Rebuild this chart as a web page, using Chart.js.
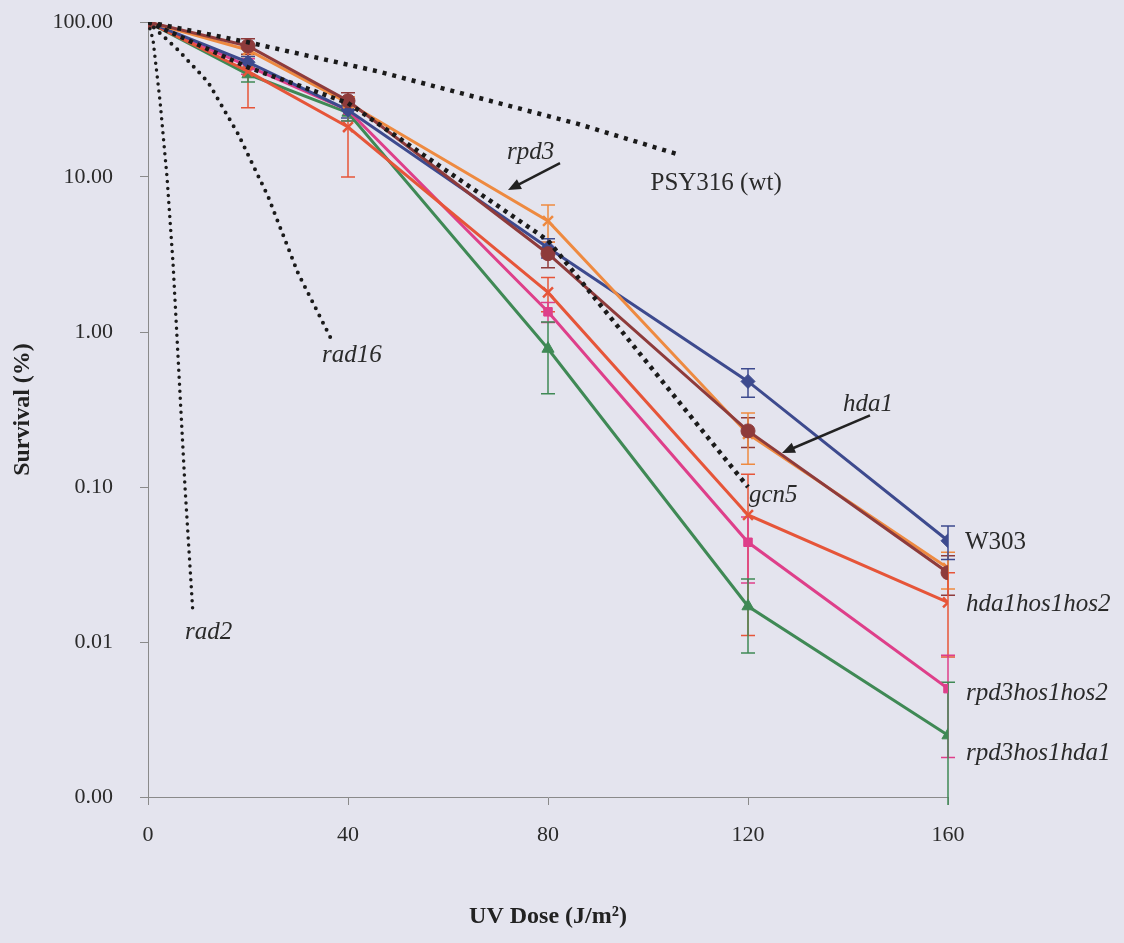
<!DOCTYPE html>
<html>
<head>
<meta charset="utf-8">
<title>UV survival</title>
<script src="https://cdn.jsdelivr.net/npm/chart.js@4.4.1/dist/chart.umd.min.js"></script>
<style>
  html, body { margin: 0; padding: 0; background: #E4E4EE; }
  #wrap { width: 1124px; height: 943px; position: relative; }
</style>
</head>
<body>
<div id="wrap"><canvas id="survivalChart"></canvas></div>
<script>
// UV dose (J/m2) used for every strain
const doses = [0, 20, 40, 80, 120, 160];

// Survival (%) and +/- error for each strain
const w303 = [100, 55, 27, 3.5, 0.48, 0.045];
const w303Err = [0, 5, 3, 0.5, 0.1, 0.011];
const hda1 = [100, 70, 31, 3.2, 0.23, 0.028];
const hda1Err = [0, 8, 4, 0.6, 0.05, 0.008];
const rpd3 = [100, 66, 30, 5.2, 0.22, 0.03];
const rpd3Err = [0, 6, 3, 1.4, 0.08, 0.008];
const hda1hos1hos2 = [100, 48, 21, 1.8, 0.066, 0.018];
const hda1hos1hos2Err = [0, 20, 11, 0.45, 0.055, 0.01];
const rpd3hos1hos2 = [100, 52, 27, 1.35, 0.044, 0.005];
const rpd3hos1hos2Err = [0, 6, 4, 0.2, 0.02, 0.0032];
const rpd3hos1hda1 = [100, 46, 26, 0.78, 0.017, 0.0025];
const rpd3hos1hda1Err = [0, 5, 3, 0.38, 0.0085, 0.003];

// dotted reference curves (other strains), dose / survival
const wtDose = [0, 20, 46, 86, 106];
const wtSurv = [100, 74, 48, 22, 14];
const gcn5Dose = [0, 20, 40, 80, 120];
const gcn5Surv = [100, 51, 30, 3.9, 0.1];
const rad16Dose = [0, 6, 12, 18, 24, 30, 36.5];
const rad16Surv = [100, 66, 41, 19, 7.5, 2.4, 0.92];
const rad2Dose = [0, 1, 2.4, 3.8, 5, 7.4, 9];
const rad2Surv = [100, 77, 31, 10, 2.8, 0.1, 0.015];

const yTicks = [0.001, 0.01, 0.1, 1, 10, 100];

// text put on the plot, placed in data units (left edge, middle)
const notes = [
    { text: 'rad2', x: 7.4, y: 0.0116, italic: true },
    { text: 'rad16', x: 34.8, y: 0.71, italic: true },
    { text: 'rpd3', x: 71.8, y: 14.5, italic: true },
    { text: 'PSY316 (wt)', x: 100.5, y: 9.15, italic: false },
    { text: 'hda1', x: 139, y: 0.343, italic: true },
    { text: 'gcn5', x: 120.2, y: 0.0887, italic: true },
    { text: 'W303', x: 163.4, y: 0.0442, italic: false },
    { text: 'hda1hos1hos2', x: 163.6, y: 0.0176, italic: true },
    { text: 'rpd3hos1hos2', x: 163.6, y: 0.00469, italic: true },
    { text: 'rpd3hos1hda1', x: 163.6, y: 0.00192, italic: true }
];
const arrows = [
    { x1: 82.4, y1: 12.3, x2: 72, y2: 8.24 },
    { x1: 144.4, y1: 0.29, x2: 126.8, y2: 0.166 }
];

const FONT = "'Liberation Serif', 'Times New Roman', serif";
Chart.defaults.font.family = FONT;
Chart.defaults.color = '#2a2a2a';

function pts(xs, ys) {
    return xs.map(function (x, i) { return { x: x, y: ys[i] }; });
}

function strain(label, values, errors, color, style, radius) {
    return {
        label: label,
        data: pts(doses, values),
        errors: errors,
        showLine: true,
        borderColor: color,
        backgroundColor: color,
        borderWidth: 3,
        pointStyle: style,
        pointRadius: radius,
        pointBorderWidth: (style === 'crossRot') ? 2.5 : 1,
        order: 1
    };
}

function dotted(label, xs, ys, width, dash, cap) {
    return {
        label: label,
        data: pts(xs, ys),
        showLine: true,
        borderColor: '#1a1a1a',
        borderWidth: width,
        borderDash: dash,
        borderCapStyle: cap,
        pointRadius: 0,
        order: 0
    };
}

/*---------------------------------------------------
  Plugins: background, error bars, text + arrows
---------------------------------------------------*/

const paperBg = {
    id: 'paperBg',
    beforeDraw: function (chart) {
        const ctx = chart.ctx;
        ctx.save();
        ctx.fillStyle = '#E4E4EE';
        ctx.fillRect(0, 0, chart.width, chart.height);
        ctx.restore();
    }
};

const errorBars = {
    id: 'errorBars',
    beforeDatasetsDraw: function (chart) {
        const ctx = chart.ctx;
        const xs = chart.scales.x;
        const ys = chart.scales.y;
        const area = chart.chartArea;
        ctx.save();
        chart.data.datasets.forEach(function (ds) {
            if (!ds.errors) return;
            ctx.strokeStyle = ds.borderColor;
            ctx.lineWidth = 1.5;
            ds.data.forEach(function (p, j) {
                const e = ds.errors[j];
                if (!e) return;
                const px = xs.getPixelForValue(p.x);
                const top = ys.getPixelForValue(p.y + e);
                const lo = p.y - e;
                const clipped = lo <= ys.min;
                const bottom = clipped ? area.bottom + 8 : ys.getPixelForValue(lo);
                ctx.beginPath();
                ctx.moveTo(px, top);
                ctx.lineTo(px, bottom);
                ctx.moveTo(px - 7, top);
                ctx.lineTo(px + 7, top);
                if (!clipped) {
                    ctx.moveTo(px - 7, bottom);
                    ctx.lineTo(px + 7, bottom);
                }
                ctx.stroke();
            });
        });
        ctx.restore();
    }
};

const plotNotes = {
    id: 'plotNotes',
    afterDatasetsDraw: function (chart) {
        const ctx = chart.ctx;
        const xs = chart.scales.x;
        const ys = chart.scales.y;
        ctx.save();
        ctx.fillStyle = '#2a2a2a';
        ctx.textAlign = 'left';
        ctx.textBaseline = 'middle';
        notes.forEach(function (n) {
            ctx.font = (n.italic ? 'italic ' : '') + '25px ' + FONT;
            ctx.fillText(n.text, xs.getPixelForValue(n.x), ys.getPixelForValue(n.y));
        });

        ctx.strokeStyle = '#222';
        ctx.fillStyle = '#222';
        ctx.lineWidth = 2.5;
        arrows.forEach(function (a) {
            const x1 = xs.getPixelForValue(a.x1), y1 = ys.getPixelForValue(a.y1);
            const x2 = xs.getPixelForValue(a.x2), y2 = ys.getPixelForValue(a.y2);
            const ang = Math.atan2(y2 - y1, x2 - x1);
            const len = 14;
            ctx.beginPath();
            ctx.moveTo(x1, y1);
            ctx.lineTo(x2 - Math.cos(ang) * len * 0.8, y2 - Math.sin(ang) * len * 0.8);
            ctx.stroke();
            ctx.beginPath();
            ctx.moveTo(x2, y2);
            ctx.lineTo(x2 - len * Math.cos(ang - 0.4), y2 - len * Math.sin(ang - 0.4));
            ctx.lineTo(x2 - len * Math.cos(ang + 0.4), y2 - len * Math.sin(ang + 0.4));
            ctx.closePath();
            ctx.fill();
        });
        ctx.restore();
    }
};

const ctx = document.getElementById('survivalChart');

const survivalChart = new Chart(ctx, {
    type: 'scatter',
    plugins: [paperBg, errorBars, plotNotes],
    data: {
        datasets: [
            dotted('PSY316 (wt)', wtDose, wtSurv, 4.5, [4, 6], 'butt'),
            dotted('gcn5', gcn5Dose, gcn5Surv, 4.5, [4, 5], 'butt'),
            dotted('rad16', rad16Dose, rad16Surv, 4, [0, 8], 'round'),
            dotted('rad2', rad2Dose, rad2Surv, 3.5, [0, 7], 'round'),
            strain('hda1', hda1, hda1Err, '#8E3B3B', 'circle', 7),
            strain('rpd3', rpd3, rpd3Err, '#EE8A40', 'crossRot', 7),
            strain('W303', w303, w303Err, '#3D4A8E', 'rectRot', 7),
            strain('hda1hos1hos2', hda1hos1hos2, hda1hos1hos2Err, '#E65539', 'crossRot', 7),
            strain('rpd3hos1hos2', rpd3hos1hos2, rpd3hos1hos2Err, '#DE3F8A', 'rect', 6),
            strain('rpd3hos1hda1', rpd3hos1hda1, rpd3hos1hda1Err, '#3F8955', 'triangle', 7)
        ]
    },
    options: {
        responsive: true,
        maintainAspectRatio: false,
        animation: false,
        layout: { padding: { top: 22, right: 176, left: 0, bottom: 0 } },
        plugins: {
            legend: { display: false },
            tooltip: { enabled: false }
        },
        scales: {
            x: {
                type: 'linear',
                min: 0,
                max: 160,
                afterFit: function (scale) { scale.height = 146; },
                ticks: {
                    stepSize: 40,
                    padding: 17,
                    font: { size: 22 },
                    color: '#2a2a2a'
                },
                grid: { drawOnChartArea: false, tickLength: 8, color: '#8a8a8a' },
                border: { color: '#8a8a8a', width: 1 },
                title: {
                    display: true,
                    text: 'UV Dose (J/m²)',
                    font: { size: 24, weight: 'bold' },
                    color: '#222',
                    padding: { top: 0, bottom: 12 }
                }
            },
            y: {
                type: 'logarithmic',
                min: 0.001,
                max: 100,
                afterFit: function (scale) {
                    scale.width = 148;
                    // labels fit inside the layout padding
                    scale.paddingTop = 0;
                    scale.paddingBottom = 0;
                },
                afterBuildTicks: function (scale) {
                    scale.ticks = yTicks.map(function (v) { return { value: v }; });
                },
                ticks: {
                    padding: 27,
                    font: { size: 22 },
                    color: '#2a2a2a',
                    callback: function (v) { return Number(v).toFixed(2); }
                },
                grid: { drawOnChartArea: false, tickLength: 8, color: '#8a8a8a' },
                border: { color: '#8a8a8a', width: 1 },
                title: {
                    display: true,
                    text: 'Survival (%)',
                    font: { size: 24, weight: 'bold' },
                    color: '#222',
                    padding: { top: 8, bottom: 0 }
                }
            }
        }
    }
});
</script>
</body>
</html>
